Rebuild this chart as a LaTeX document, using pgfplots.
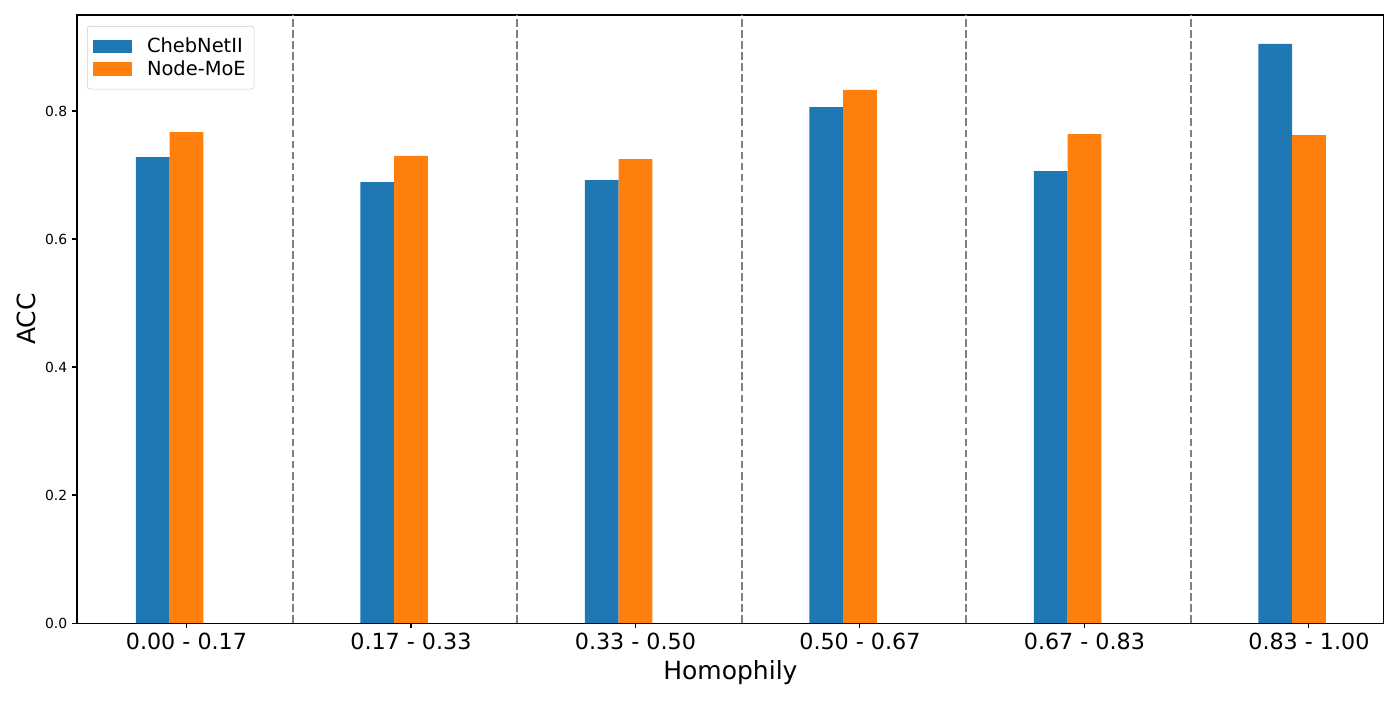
\documentclass[border=0pt]{standalone}
\usepackage{fontspec}
\setmainfont{DejaVu Sans}
\usepackage{pgfplots}
\pgfplotsset{compat=1.18}

\definecolor{cblue}{HTML}{1F77B4}
\definecolor{corange}{HTML}{FF7F0E}
\definecolor{vgray}{HTML}{808080}

\begin{document}
\begin{tikzpicture}
\begin{axis}[
    scale only axis,
    width=941pt, height=437.8pt,
    xmin=-0.4878, xmax=5.334,
    ymin=0, ymax=0.95,
    xtick={0,1,2,3,4,5},
    xticklabels={0.00 - 0.17, 0.17 - 0.33, 0.33 - 0.50, 0.50 - 0.67, 0.67 - 0.83, 0.83 - 1.00},
    ytick={0,0.2,0.4,0.6,0.8},
    yticklabel style={/pgf/number format/fixed, /pgf/number format/fixed zerofill, /pgf/number format/precision=1, font=\fontsize{10}{12}\selectfont},
    xticklabel style={font=\fontsize{16}{19}\selectfont},
    /pgf/number format/assume math mode=true,
    scaled y ticks=false,
    xtick pos=lower, ytick pos=left,
    tick align=outside,
    major tick length=3.5pt,
    tick style={black, line width=0.8pt},
    axis line style={line width=0.8pt},
    xlabel={Homophily}, ylabel={ACC},
    xlabel style={yshift=-1pt},
    label style={font=\fontsize{18}{22}\selectfont},
    legend cell align=left,
    legend style={at={(0.0077,0.982)}, anchor=north west, draw=black!20, rounded corners=2pt,
        font=\fontsize{14}{17}\selectfont, inner xsep=4pt, inner ysep=6.5pt, row sep=0pt},
    legend image code/.code={\fill[#1, rounded corners=0pt] (0pt,-5pt) rectangle (28pt,5pt); \path (37pt,0pt);},
]
\addplot[ybar, bar width=0.15, bar shift=-0.15, fill=cblue, draw=none] coordinates {
    (0,0.728) (1,0.689) (2,0.692) (3,0.806) (4,0.706) (5,0.905)
};
\addlegendentry{ChebNetII}
\addplot[ybar, bar width=0.15, bar shift=0, fill=corange, draw=none] coordinates {
    (0,0.767) (1,0.730) (2,0.725) (3,0.833) (4,0.764) (5,0.7625)
};
\addlegendentry{Node-MoE}
\pgfplotsinvokeforeach{0.475,1.474,2.475,3.474,4.475}{
  \addplot[vgray, line width=1.5pt, dash pattern=on 5.55pt off 2.4pt, forget plot] coordinates {(#1,0) (#1,0.95)};
}
\end{axis}
\path (current axis.south west) ++(-55.4pt,-55.4pt) rectangle ++(1008pt,504pt);
\end{tikzpicture}
\end{document}
